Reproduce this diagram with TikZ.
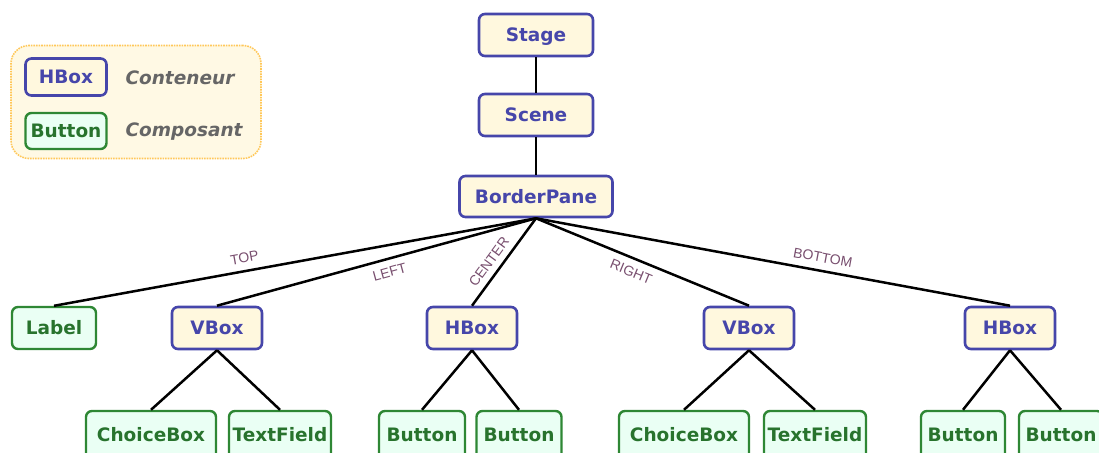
\documentclass[tikz,border=0pt]{standalone}
\usepackage{fontspec}
\setmainfont{DejaVu Sans}
\newfontfamily\slotfont{Liberation Sans}
\usetikzlibrary{positioning}

\definecolor{contblue}{RGB}{70,70,170}
\definecolor{contfill}{RGB}{255,248,222}
\definecolor{compgreen}{RGB}{46,135,52}
\definecolor{comptext}{RGB}{40,115,45}
\definecolor{compfill}{RGB}{234,255,244}
\definecolor{legendfill}{RGB}{255,249,228}
\definecolor{legendline}{RGB}{255,200,90}
\definecolor{slotcolor}{RGB}{120,78,110}

\begin{document}
\begin{tikzpicture}[x=1pt,y=-1pt]

    \tikzstyle{conteneur}=[draw=contblue,fill=contfill,text=contblue,line width=2.6pt,rounded corners=6pt,minimum height=42pt,inner sep=0pt,text height=13pt,text depth=0pt,font=\bfseries\fontsize{18.5}{20}\selectfont]
    \tikzstyle{composant}=[draw=compgreen,fill=compfill,text=comptext,line width=2.4pt,rounded corners=6pt,minimum height=42pt,inner sep=0pt,text height=13pt,text depth=0pt,font=\bfseries\fontsize{18.5}{20}\selectfont]
    \tikzstyle{slot}=[sloped,inner sep=1pt,text=slotcolor,font=\slotfont\fontsize{14}{15}\selectfont]
    \tikzstyle{link}=[line width=2.5pt,black]

\useasboundingbox (0,0) rectangle (1099,452);

% legende
\node (legend) [draw=legendline,fill=legendfill,densely dotted,line width=1.6pt,rounded corners=18pt,minimum width=250pt,minimum height=113pt] at (136,102) {};
\node (leg_cont) [conteneur,minimum width=81pt,minimum height=37pt] at (66,77) {HBox};
\node (leg_comp) [composant,minimum width=81pt,minimum height=36pt] at (66,131) {Button};
\node (leg_cont_txt) [anchor=west,text=black!60,font=\bfseries\itshape\fontsize{18.5}{20}\selectfont] at (122,78) {Conteneur};
\node (leg_comp_txt) [anchor=west,text=black!60,font=\bfseries\itshape\fontsize{18.5}{20}\selectfont] at (122,132) {Composant};

% arbre
\node (stage) [conteneur,minimum width=114pt] at (536,35) {Stage};
\node (scene) [conteneur,minimum width=114pt] at (536,115) {Scene};
\node (pane) [conteneur,minimum width=153pt,minimum height=41pt] at (536,196.5) {BorderPane};

\node (label) [composant,minimum width=84pt] at (54,328) {Label};
\node (vbox_l) [conteneur,minimum width=90pt] at (217,328) {VBox};
\node (hbox_c) [conteneur,minimum width=90pt] at (472,328) {HBox};
\node (vbox_r) [conteneur,minimum width=90pt] at (749,328) {VBox};
\node (hbox_r) [conteneur,minimum width=90pt] at (1010,328) {HBox};

\node (choice_l) [composant,minimum width=130pt,minimum height=48pt] at (151,435) {ChoiceBox};
\node (field_l) [composant,minimum width=102pt,minimum height=48pt] at (280,435) {TextField};
\node (button_1) [composant,minimum width=86pt,minimum height=48pt] at (422,435) {Button};
\node (button_2) [composant,minimum width=85pt,minimum height=48pt] at (519,435) {Button};
\node (choice_r) [composant,minimum width=130pt,minimum height=48pt] at (684,435) {ChoiceBox};
\node (field_r) [composant,minimum width=102pt,minimum height=48pt] at (815,435) {TextField};
\node (button_3) [composant,minimum width=84pt,minimum height=48pt] at (963,435) {Button};
\node (button_4) [composant,minimum width=84pt,minimum height=48pt] at (1061,435) {Button};

\draw[link] (stage) -- (scene);
\draw[link] (scene) -- (pane);

\draw[link] (pane.south) -- (label.north) node[slot,pos=0.6,above=6pt] {TOP};
\draw[link] (pane.south) -- (vbox_l.north) node[slot,pos=0.47,below=6pt] {LEFT};
\draw[link] (pane.south) -- (hbox_c.north) node[slot,pos=0.58,above=5pt] {CENTER};
\draw[link] (pane.south) -- (vbox_r.north) node[slot,pos=0.47,below=6pt] {RIGHT};
\draw[link] (pane.south) -- (hbox_r.north) node[slot,pos=0.6,above=6pt] {BOTTOM};

\draw[link] (vbox_l.south) -- (choice_l.north);
\draw[link] (vbox_l.south) -- (field_l.north);
\draw[link] (hbox_c.south) -- (button_1.north);
\draw[link] (hbox_c.south) -- (button_2.north);
\draw[link] (vbox_r.south) -- (choice_r.north);
\draw[link] (vbox_r.south) -- (field_r.north);
\draw[link] (hbox_r.south) -- (button_3.north);
\draw[link] (hbox_r.south) -- (button_4.north);

\end{tikzpicture}
\end{document}
